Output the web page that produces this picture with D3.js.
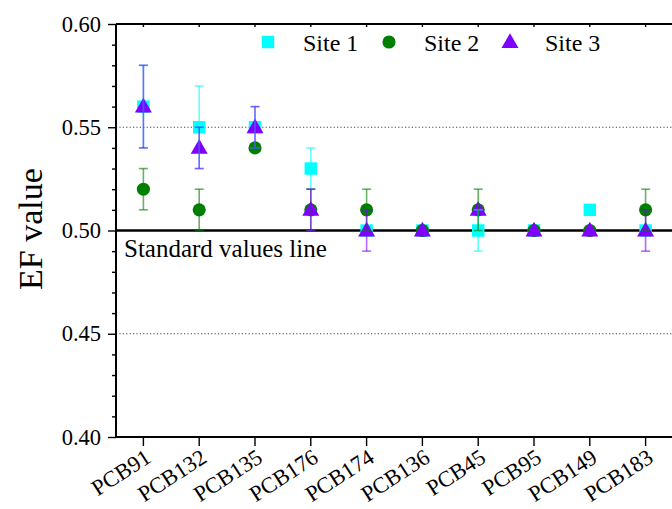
<!DOCTYPE html>
<html>
<head>
<meta charset="utf-8">
<script src="https://cdn.jsdelivr.net/npm/d3@7"></script>
<style>
  body { margin: 0; background: #fff; }
  text { font-family: "Liberation Serif", "Times New Roman", serif; fill: #000; }
</style>
</head>
<body>
<svg id="chart" width="672" height="509"></svg>
<script>
// data
var congeners = ["PCB91", "PCB132", "PCB135", "PCB176", "PCB174", "PCB136", "PCB45", "PCB95", "PCB149", "PCB183"];
var site1 = [0.56, 0.55, 0.55, 0.53, 0.50, 0.50, 0.50, 0.50, 0.51, 0.50];
var site1Err = [0.02, 0.02, 0.01, 0.01, 0, 0, 0.01, 0, 0, 0];
var site2 = [0.52, 0.51, 0.54, 0.51, 0.51, 0.50, 0.51, 0.50, 0.50, 0.51];
var site2Err = [0.01, 0.01, 0, 0.01, 0.01, 0, 0.01, 0, 0, 0.01];
var site3 = [0.56, 0.54, 0.55, 0.51, 0.50, 0.50, 0.51, 0.50, 0.50, 0.50];
var site3Err = [0.02, 0.01, 0.01, 0.01, 0.01, 0, 0, 0, 0, 0.01];
var yTicks = [0.40, 0.45, 0.50, 0.55, 0.60];
var yMinorTicks = [0.41, 0.42, 0.43, 0.44, 0.46, 0.47, 0.48, 0.49, 0.51, 0.52, 0.53, 0.54, 0.56, 0.57, 0.58, 0.59];
var gridVals = [0.45, 0.55];
var standardValue = 0.50;

var series = [
  { name: "Site 1", vals: site1, err: site1Err, color: "#00ffff", shape: "square" },
  { name: "Site 2", vals: site2, err: site2Err, color: "#007f00", shape: "circle" },
  { name: "Site 3", vals: site3, err: site3Err, color: "#7f00ff", shape: "triangle" }
];

var svg = d3.select("#chart");
var plotLeft = 116, plotTop = 24, plotBottom = 437, plotRight = 672;

var x = d3.scaleBand().domain(congeners).range([115.5, 673.5]).padding(0);
var y = d3.scaleLinear().domain([0.40, 0.60]).range([plotBottom, plotTop]);
var cx = d => x(d) + x.bandwidth() / 2;

function symbolFor(shape) {
  if (shape === "square") return d3.symbol().type(d3.symbolSquare).size(155);
  if (shape === "circle") return d3.symbol().type(d3.symbolCircle).size(135);
  return d3.symbol().type(d3.symbolTriangle).size(125);
}

// dotted grid lines
svg.selectAll(".grid").data(gridVals).enter().append("line")
  .attr("x1", plotLeft).attr("x2", plotRight)
  .attr("y1", d => y(d)).attr("y2", d => y(d))
  .attr("stroke", "#444").attr("stroke-width", 1)
  .attr("stroke-dasharray", "1.2,2.2");

// standard values line
svg.append("line")
  .attr("x1", plotLeft).attr("x2", plotRight)
  .attr("y1", y(standardValue)).attr("y2", y(standardValue))
  .attr("stroke", "#000").attr("stroke-width", 2.6);

svg.append("text")
  .attr("x", 124).attr("y", 256.5)
  .style("font-size", "25px")
  .text("Standard values line");

// markers
series.forEach(s => {
  svg.append("g").selectAll("path").data(congeners).enter().append("path")
    .attr("d", symbolFor(s.shape))
    .attr("transform", (d, i) => "translate(" + cx(d) + "," + (y(s.vals[i]) + (s.shape === "triangle" ? 1 : 0)) + ")")
    .attr("fill", s.color);
});

// error bars on top
series.forEach(s => {
  var g = svg.append("g")
    .attr("stroke", s.color).attr("stroke-width", 1.6).attr("stroke-opacity", 0.6);
  congeners.forEach((c, i) => {
    var e = s.err[i];
    if (!e) return;
    var xc = cx(c), y1 = y(s.vals[i] + e), y2 = y(s.vals[i] - e);
    g.append("line").attr("x1", xc).attr("x2", xc).attr("y1", y1).attr("y2", y2);
    g.append("line").attr("x1", xc - 4.5).attr("x2", xc + 4.5).attr("y1", y1).attr("y2", y1);
    g.append("line").attr("x1", xc - 4.5).attr("x2", xc + 4.5).attr("y1", y2).attr("y2", y2);
  });
});

// axes
var yAxis = svg.append("g").attr("transform", "translate(" + plotLeft + ",0)")
  .call(d3.axisLeft(y).tickValues(yTicks).tickFormat(d3.format(".2f")).tickSize(8).tickPadding(7));
var yMinor = svg.append("g").attr("transform", "translate(" + plotLeft + ",0)")
  .call(d3.axisLeft(y).tickValues(yMinorTicks).tickSize(4).tickFormat(""));
yMinor.select(".domain").remove();

var xAxis = svg.append("g").attr("transform", "translate(0," + plotBottom + ")")
  .call(d3.axisBottom(x).tickSize(9).tickSizeOuter(0));
xAxis.selectAll(".tick text")
  .attr("text-anchor", "end")
  .attr("transform", "translate(9,24) rotate(-33)")
  .attr("y", 0).attr("dy", 0).attr("x", 0);

var topAxis = svg.append("g").attr("transform", "translate(0," + plotTop + ")")
  .call(d3.axisBottom(x).tickSize(3).tickSizeOuter(0).tickFormat(""));

[yAxis, yMinor, xAxis, topAxis].forEach(a => {
  a.attr("font-family", "Liberation Serif").attr("font-size", 22.5);
  a.selectAll(".tick line").attr("stroke", "#000").attr("stroke-width", 1.4);
  a.selectAll(".domain").attr("stroke", "#000").attr("stroke-width", 2);
});
xAxis.select(".domain").attr("d", "M" + plotLeft + ",0H" + plotRight);
topAxis.select(".domain").attr("d", "M" + plotLeft + ",0H" + plotRight);
yAxis.select(".domain").attr("d", "M0," + plotTop + "V" + plotBottom);

// axis title
svg.append("text")
  .attr("transform", "translate(42,229) rotate(-90)")
  .attr("text-anchor", "middle")
  .style("font-size", "34px")
  .text("EF value");

// legend
var legendX = [268, 389, 510];
series.forEach((s, i) => {
  svg.append("path")
    .attr("d", symbolFor(s.shape))
    .attr("transform", "translate(" + legendX[i] + "," + (s.shape === "triangle" ? 43 : 42) + ")")
    .attr("fill", s.color);
  svg.append("text")
    .attr("x", legendX[i] + 35).attr("y", 50.5)
    .style("font-size", "24px")
    .text(s.name);
});
</script>
</body>
</html>
